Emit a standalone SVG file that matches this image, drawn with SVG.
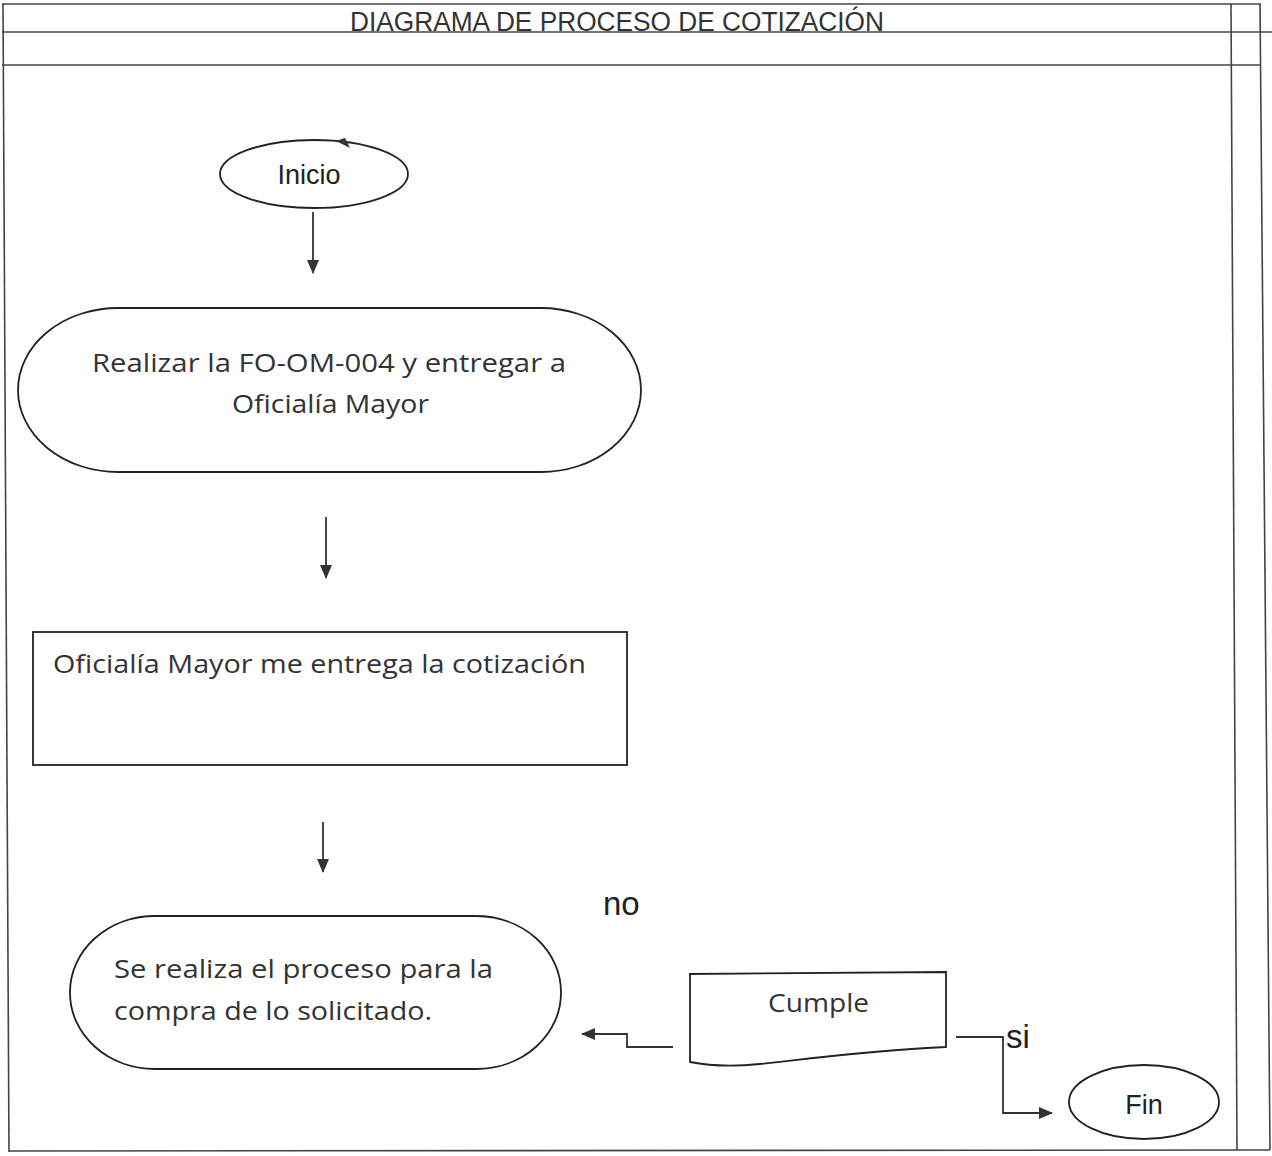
<svg xmlns="http://www.w3.org/2000/svg" width="1272" height="1156" viewBox="0 0 1272 1156">
<defs>
<marker id="ah" viewBox="0 0 14 12" refX="13" refY="6" markerWidth="14" markerHeight="12" markerUnits="userSpaceOnUse" orient="auto">
<path d="M0,0 L14,6 L0,12 Z" fill="#333"/>
</marker>
<style>
.frame{fill:none;stroke:#444;stroke-width:1.6}
.shape{fill:#fff;stroke:#222;stroke-width:1.8}
.conn{fill:none;stroke:#333;stroke-width:1.8}
.t{font-family:"Open Sans",Lato,sans-serif;font-size:26px;fill:#333}
.ta{font-family:"Liberation Sans",Arial,sans-serif;font-size:27px;fill:#222}
.lbl{font-family:"Liberation Sans",Arial,sans-serif;font-size:33px;fill:#222}
.title{font-family:"Liberation Sans",Arial,sans-serif;font-size:27px;fill:#333}
</style>
</defs>
<rect width="1272" height="1156" fill="#fff"/>
<g id="frame">
<line class="frame" x1="2" y1="4" x2="1261" y2="4"/>
<line class="frame" x1="2" y1="32" x2="1272" y2="32"/>
<line class="frame" x1="2" y1="65" x2="1261" y2="65"/>
<line class="frame" x1="3" y1="4" x2="9" y2="1152"/>
<line class="frame" x1="1231" y1="4" x2="1237" y2="1150"/>
<line class="frame" x1="1260" y1="4" x2="1270" y2="1150"/>
<line class="frame" x1="9" y1="1151" x2="1270" y2="1150"/>
<text class="title" x="617" y="31" text-anchor="middle" textLength="534" lengthAdjust="spacingAndGlyphs">DIAGRAMA DE PROCESO DE COTIZACIÓN</text>
</g>
<g id="inicio">
<ellipse class="shape" cx="314" cy="174" rx="94" ry="34"/>
<path d="M336,141 L350,148 L345,138 Z" fill="#333"/>
<text class="ta" x="309" y="184" text-anchor="middle">Inicio</text>
</g>
<g id="realizar">
<rect class="shape" x="18" y="308" width="623" height="164" rx="100" ry="82"/>
<text class="t" x="92" y="372" textLength="474" lengthAdjust="spacingAndGlyphs">Realizar la FO-OM-004 y entregar a</text>
<text class="t" x="232" y="413" textLength="197" lengthAdjust="spacingAndGlyphs">Oficialía Mayor</text>
</g>
<g id="oficialia">
<rect class="shape" x="33" y="632" width="594" height="133"/>
<text class="t" x="53" y="673" textLength="533" lengthAdjust="spacingAndGlyphs">Oficialía Mayor me entrega la cotización</text>
</g>
<g id="proceso">
<rect class="shape" x="70" y="916" width="491" height="153" rx="85" ry="76"/>
<text class="t" x="114" y="978" textLength="379" lengthAdjust="spacingAndGlyphs">Se realiza el proceso para la</text>
<text class="t" x="114" y="1020" textLength="318" lengthAdjust="spacingAndGlyphs">compra de lo solicitado.</text>
</g>
<g id="cumple">
<path class="shape" d="M690,974 L946,972 L946,1047 C870,1050 800,1060 760,1064 C730,1067 710,1066 690,1062 Z"/>
<text class="t" x="768" y="1012" textLength="101" lengthAdjust="spacingAndGlyphs">Cumple</text>
</g>
<g id="fin">
<ellipse class="shape" cx="1144" cy="1102" rx="75" ry="37"/>
<text class="ta" x="1144" y="1114" text-anchor="middle">Fin</text>
</g>
<g id="connectors">
<line class="conn" x1="313" y1="212" x2="313" y2="273" marker-end="url(#ah)"/>
<line class="conn" x1="326" y1="517" x2="326" y2="578" marker-end="url(#ah)"/>
<line class="conn" x1="323" y1="822" x2="323" y2="872" marker-end="url(#ah)"/>
<polyline class="conn" points="673,1047 627,1047 627,1034 582,1034" marker-end="url(#ah)"/>
<polyline class="conn" points="956,1037 1003,1037 1003,1113 1052,1113" marker-end="url(#ah)"/>
<text class="lbl" x="603" y="915">no</text>
<text class="lbl" x="1006" y="1048">si</text>
</g>
</svg>
